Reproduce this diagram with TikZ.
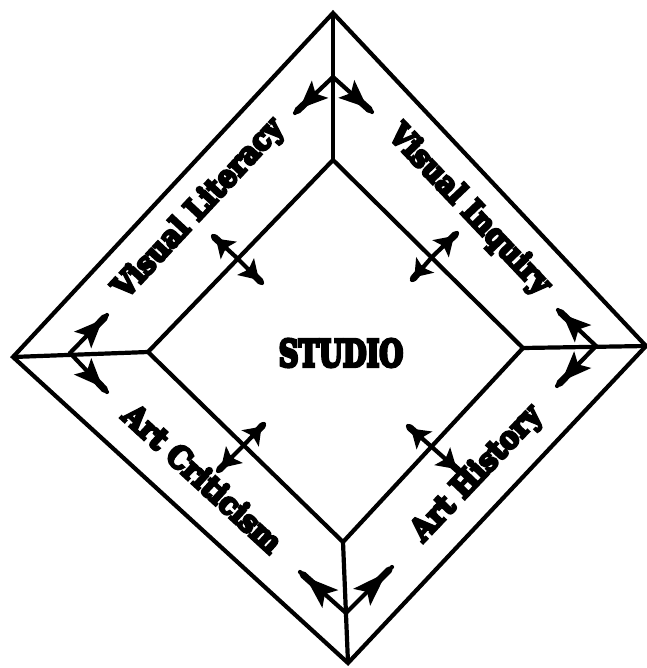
\documentclass[tikz,border=0pt]{standalone}
\usepackage{fontspec}
\setmainfont{DejaVu Serif}
\newfontfamily\heavy{DejaVu Serif}[BoldFeatures={FakeBold=9}]
\usetikzlibrary{calc}
\newcommand\harr[2]{%
  \draw[edge,line cap=round] (#1) -- (#2);
  \draw[line width=7pt,line cap=round] ($(#1)!0.5!(#2)$) -- ($(#1)!0.93!(#2)$);
  \fill ($(#1)!0.88!(#2)$) -- ($($(#1)!0.34!(#2)$)!12pt!90:(#2)$) -- ($(#1)!0.46!(#2)$) -- ($($(#1)!0.34!(#2)$)!12pt!-90:(#2)$) -- cycle;}
\begin{document}
\begin{tikzpicture}[x=1pt,y=-1pt,
  edge/.style={line width=4.2pt,line join=miter},
  lbl/.style={font=\heavy\bfseries\fontsize{31}{31}\selectfont,inner sep=0pt},
  big/.style={font=\heavy\bfseries\fontsize{37}{37}\selectfont,inner sep=0pt}]
\useasboundingbox (0,0) rectangle (646,668);
% outer diamond
\coordinate (T) at (333,13);
\coordinate (R) at (646,346);
\coordinate (B) at (348,663);
\coordinate (L) at (13,357);
% inner diamond
\coordinate (t) at (333,160);
\coordinate (r) at (523,348);
\coordinate (b) at (343,542);
\coordinate (l) at (148,352);
\draw[edge] (T) -- (R) -- (B) -- (L) -- cycle;
\draw[edge] (t) -- (r) -- (b) -- (l) -- cycle;
% spokes
\draw[edge] (T) -- (t);
\draw[edge] (R) -- (r);
\draw[edge] (B) -- (b);
\draw[edge] (L) -- (l);
% junctions
\coordinate (jt) at (333,77);
\coordinate (jr) at (596,346);
\coordinate (jb) at (346,613);
\coordinate (jl) at (70,353);
% spoke arrow ends
\coordinate (jt1) at (295,113);
\coordinate (jt2) at (372,112);
\coordinate (jl1) at (107,315);
\coordinate (jl2) at (107,392);
\coordinate (jr1) at (558,310);
\coordinate (jr2) at (557,386);
\coordinate (jb1) at (300,572);
\coordinate (jb2) at (392,567);
\foreach \j/\e in {jt/jt1,jt/jt2,jl/jl1,jl/jl2,jr/jr1,jr/jr2,jb/jb1,jb/jb2}
  \harr{\j}{\e};
% crossing arrows on inner edges
\coordinate (c1) at (237,258);
\coordinate (c1a) at (213,236);
\coordinate (c1b) at (262,283);
\coordinate (c2) at (432,257);
\coordinate (c2a) at (457,233);
\coordinate (c2b) at (412,280);
\coordinate (c3) at (433,448);
\coordinate (c3a) at (408,426);
\coordinate (c3b) at (460,472);
\coordinate (c4) at (243,446);
\coordinate (c4a) at (264,424);
\coordinate (c4b) at (218,471);
\foreach \c/\e in {c1/c1a,c1/c1b,c2/c2a,c2/c2b,c3/c3a,c3/c3b,c4/c4a,c4/c4b}
  \harr{\c}{\e};
% labels
\node[big] (studio) at (341,353) {\scalebox{0.74}[1]{STUDIO}};
\node[lbl,rotate=47] (vl) at (199,209) {\scalebox{0.9}[1]{Visual Literacy}};
\node[lbl,rotate=-46.5] (vi) at (469,210) {\scalebox{0.9}[1]{Visual Inquiry}};
\node[lbl,rotate=-42.5] (ac) at (203,478) {\scalebox{0.9}[1]{Art Criticism}};
\node[lbl,rotate=46.5] (ah) at (477,474) {\scalebox{0.9}[1]{Art History}};
\end{tikzpicture}
\end{document}
